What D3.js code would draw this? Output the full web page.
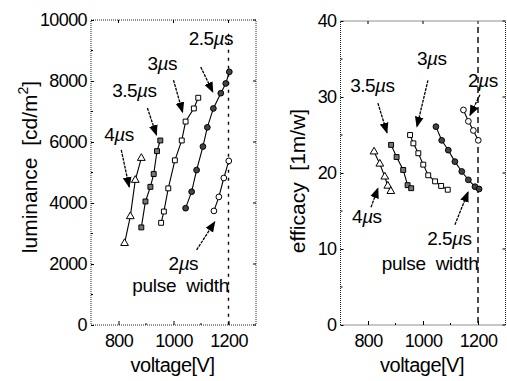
<!DOCTYPE html>
<html>
<head>
<meta charset="utf-8">
<script src="https://cdn.jsdelivr.net/npm/d3@7"></script>
<style>
  html, body { margin: 0; padding: 0; background: #fff; }
  svg { display: block; font-family: "Liberation Sans", Arial, Helvetica, sans-serif; }
</style>
</head>
<body>
<div id="chart"></div>
<script>
let width = 507;
let height = 381;

// pulse widths (µs)
let widths = ["4", "3.5", "3", "2.5", "2"];

// luminance panel, voltage [V] and cd/m2 per pulse width
let lumVolt = {
  "4":   [822, 843, 861, 883],
  "3.5": [883, 898, 916, 928, 940, 952],
  "3":   [955, 965, 981, 1005, 1030, 1044, 1074, 1090],
  "2.5": [1044, 1066, 1084, 1107, 1123, 1145, 1172, 1190, 1203],
  "2":   [1147, 1165, 1183, 1201]
};
let lumVals = {
  "4":   [2680, 3560, 4750, 5470],
  "3.5": [3200, 4050, 4530, 4950, 5700, 6050],
  "3":   [3350, 3720, 4480, 5400, 6050, 6670, 7100, 7450],
  "2.5": [3830, 4370, 5080, 5850, 6480, 7100, 7600, 7920, 8300],
  "2":   [3740, 4200, 4820, 5380]
};

// efficacy panel, voltage [V] and lm/W per pulse width
let effVolt = {
  "4":   [822, 843, 861, 872, 883],
  "3.5": [884, 904, 928, 944, 957],
  "3":   [953, 965, 983, 1001, 1019, 1044, 1066, 1090],
  "2.5": [1047, 1068, 1092, 1116, 1141, 1165, 1189, 1204],
  "2":   [1147, 1165, 1183, 1201]
};
let effVals = {
  "4":   [22.8, 21.2, 19.5, 18.3, 17.6],
  "3.5": [23.7, 22.1, 20.4, 18.4, 18.0],
  "3":   [25.0, 23.9, 22.6, 21.1, 19.7, 18.9, 18.3, 17.8],
  "2.5": [26.1, 24.3, 23.0, 21.5, 20.2, 19.1, 18.2, 17.9],
  "2":   [28.3, 26.8, 25.6, 24.3]
};

let xTicks = [800, 1000, 1200];
let xMinor = [900, 1100];
let lumTicks = [0, 2000, 4000, 6000, 8000, 10000];
let lumMinor = [1000, 3000, 5000, 7000, 9000];
let effTicks = [0, 10, 20, 30, 40];
let effMinor = [5, 15, 25, 35];

// annotation labels: [width, voltage, value]
let lumLabels = [["2.5", 1055, 9180], ["3", 905, 8360], ["3.5", 777, 7475], ["4", 748, 6030], ["2", 982, 1800]];
let lumArrows = [[1099, 8460, 1143, 7640], [1000, 8030, 1033, 6980], [905, 7115, 938, 6230], [810, 5740, 839, 4525], [1084, 2460, 1150, 3380]];
let effLabels = [["3.5", 735, 30.7], ["3", 978, 34.2], ["2", 1164, 31.3], ["4", 742, 13.4], ["2.5", 1015, 10.5]];
let effArrows = [[836, 29.2, 869, 25.3], [1018, 32.2, 978, 26.1], [1207, 30.3, 1171, 27.6], [811, 15.5, 836, 18.0], [1116, 13.2, 1164, 17.5]];

let markers = {
  "4":   { type: d3.symbolTriangle, fill: "#fff", size: 26 },
  "3.5": { type: d3.symbolSquare,   fill: "#777", size: 24 },
  "3":   { type: d3.symbolSquare,   fill: "#fff", size: 24 },
  "2.5": { type: d3.symbolCircle,   fill: "#444", size: 26 },
  "2":   { type: d3.symbolCircle,   fill: "#fff", size: 26 }
};

let svg = d3.select("#chart").append("svg")
  .attr("width", width)
  .attr("height", height);

svg.append("defs").append("marker")
  .attr("id", "head")
  .attr("viewBox", "0 0 10 10")
  .attr("refX", 9).attr("refY", 5)
  .attr("markerWidth", 11).attr("markerHeight", 11)
  .attr("markerUnits", "userSpaceOnUse")
  .attr("orient", "auto")
  .append("path")
  .attr("d", "M0,1 L10,5 L0,9 Z")
  .attr("fill", "#000");

function addPulseLabel(g, txt, px, py) {
  let t = g.append("text")
    .attr("x", px).attr("y", py)
    .attr("font-size", 19)
    .attr("letter-spacing", -0.5);
  t.append("tspan").text(txt);
  t.append("tspan").attr("font-style", "italic").text("\u00b5");
  t.append("tspan").text("s");
}

function drawPanel(p) {
  let x = d3.scaleLinear().domain([700, 1300]).range(p.xRange);
  let y = d3.scaleLinear().domain(p.yDomain).range(p.yRange);
  let g = svg.append("g");

  // frame
  g.append("rect")
    .attr("x", p.xRange[0]).attr("y", p.yRange[1])
    .attr("width", p.xRange[1] - p.xRange[0])
    .attr("height", p.yRange[0] - p.yRange[1])
    .attr("fill", "none")
    .attr("stroke", "#222")
    .attr("stroke-width", 1)
    .attr("stroke-dasharray", "1,1");

  // axes, ticks pointing inward
  let gx = g.append("g")
    .attr("transform", "translate(0," + p.yRange[0] + ")")
    .call(d3.axisBottom(x).tickValues(xTicks).tickSize(-4).tickPadding(9).tickFormat(d3.format("d")));
  let gy = g.append("g")
    .attr("transform", "translate(" + p.xRange[0] + ",0)")
    .call(d3.axisLeft(y).tickValues(p.ticks).tickSize(-3).tickPadding(4).tickFormat(d3.format("d")));
  [gx, gy].forEach(function(a) {
    a.select(".domain").remove();
    a.selectAll("text").attr("font-size", 18).attr("letter-spacing", -0.6).attr("fill", "#000")
      .attr("font-family", "Liberation Sans, Arial, sans-serif");
  });
  gx.selectAll("text").attr("dy", "0.71em");

  // ticks on the top and right edges plus minor ticks
  g.selectAll(".tr").data(p.ticks).enter().append("line")
    .attr("x1", p.xRange[1]).attr("x2", p.xRange[1] - 3)
    .attr("y1", d => y(d)).attr("y2", d => y(d))
    .attr("stroke", "#000");
  g.selectAll(".tm").data(p.minor).enter().append("line")
    .attr("x1", p.xRange[0]).attr("x2", p.xRange[0] + 2)
    .attr("y1", d => y(d)).attr("y2", d => y(d))
    .attr("stroke", "#000");
  g.selectAll(".xm").data(xMinor).enter().append("line")
    .attr("x1", d => x(d)).attr("x2", d => x(d))
    .attr("y1", p.yRange[0]).attr("y2", p.yRange[0] - 2)
    .attr("stroke", "#000");
  g.selectAll(".xt").data(xTicks).enter().append("line")
    .attr("x1", d => x(d)).attr("x2", d => x(d))
    .attr("y1", p.yRange[1]).attr("y2", p.yRange[1] + 3)
    .attr("stroke", "#000");

  // 1200 V dashed line
  g.append("line")
    .attr("x1", x(1200)).attr("x2", x(1200))
    .attr("y1", y(p.dashTop)).attr("y2", y(0))
    .attr("stroke", "#000")
    .attr("stroke-width", 1.4)
    .attr("stroke-dasharray", p.dash);

  // series
  let line = d3.line().x(d => x(d[0])).y(d => y(d[1]));
  widths.forEach(function(w) {
    let pts = p.volt[w].map((v, i) => [v, p.vals[w][i]]);
    g.append("path")
      .attr("d", line(pts))
      .attr("fill", "none")
      .attr("stroke", "#000")
      .attr("stroke-width", 1.1);
    let m = markers[w];
    g.selectAll(null).data(pts).enter().append("path")
      .attr("transform", d => "translate(" + x(d[0]) + "," + y(d[1]) + ")")
      .attr("d", d3.symbol().type(m.type).size(m.size))
      .attr("fill", m.fill)
      .attr("stroke", "#000")
      .attr("stroke-width", 1);
  });

  // arrows and labels
  p.arrows.forEach(function(a) {
    g.append("line")
      .attr("x1", x(a[0])).attr("y1", y(a[1]))
      .attr("x2", x(a[2])).attr("y2", y(a[3]))
      .attr("stroke", "#000")
      .attr("stroke-width", 1.3)
      .attr("stroke-dasharray", "3,1")
      .attr("marker-end", "url(#head)");
  });
  p.labels.forEach(function(l) {
    addPulseLabel(g, l[0], x(l[1]), y(l[2]));
  });
  g.append("text")
    .attr("x", x(850)).attr("y", y(p.pulseY))
    .attr("font-size", 19)
    .attr("letter-spacing", -0.3)
    .attr("xml:space", "preserve")
    .text("pulse  width");

  // axis titles
  g.append("text")
    .attr("x", (p.xRange[0] + p.xRange[1]) / 2 - 1)
    .attr("y", 372)
    .attr("text-anchor", "middle")
    .attr("font-size", 20)
    .attr("letter-spacing", -0.5)
    .text("voltage[V]");
  let yt = g.append("text")
    .attr("transform", "translate(" + p.titleX + "," + p.titleY + ") rotate(-90)")
    .attr("text-anchor", "middle")
    .attr("font-size", 21)
    .attr("xml:space", "preserve");
  p.title(yt);
}

drawPanel({
  xRange: [91, 256], yRange: [325, 20], yDomain: [0, 10000],
  ticks: lumTicks, minor: lumMinor,
  volt: lumVolt, vals: lumVals,
  labels: lumLabels, arrows: lumArrows,
  dashTop: 9550, dash: "3,5", pulseY: 1080,
  titleX: 37, titleY: 167,
  title: function(t) {
    t.append("tspan").text("luminance  [cd/m");
    t.append("tspan").attr("font-size", 14).attr("dy", -9).text("2");
    t.append("tspan").attr("dy", 9).text("]");
  }
});

drawPanel({
  xRange: [340.5, 505.5], yRange: [325, 21], yDomain: [0, 40],
  ticks: effTicks, minor: effMinor,
  volt: effVolt, vals: effVals,
  labels: effLabels, arrows: effArrows,
  dashTop: 39.2, dash: "6,4", pulseY: 7.2,
  titleX: 305, titleY: 181,
  title: function(t) {
    t.text("efficacy  [1m/w]");
  }
});
</script>
</body>
</html>
